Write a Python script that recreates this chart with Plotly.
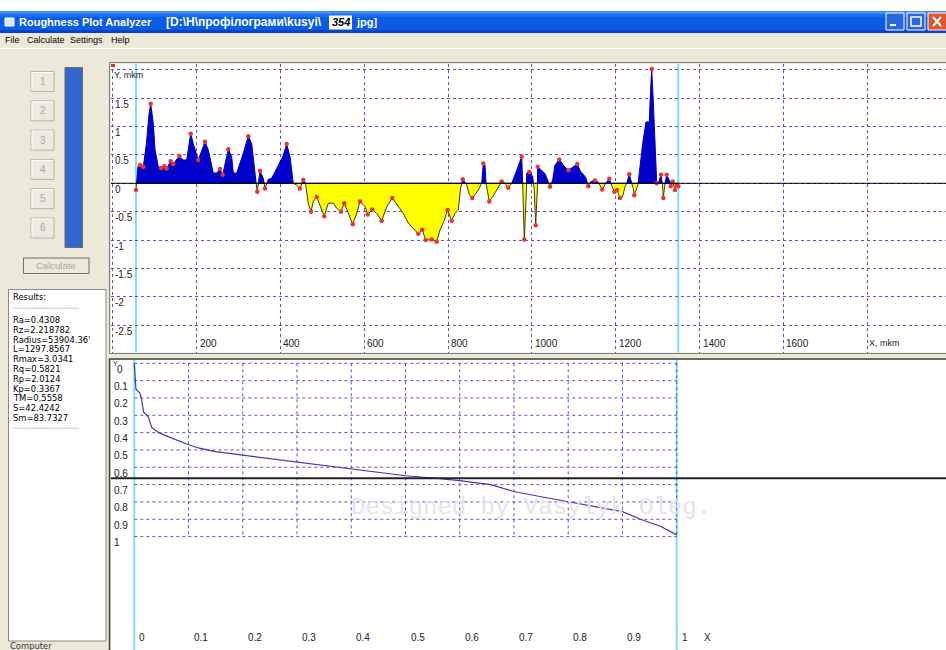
import plotly.graph_objects as go

W, H = 946, 650

# ---------------- data ----------------
profile_x = [55.1, 60.0, 64.7, 72.6, 80.0, 86.0, 90.2, 96.4, 100.5, 108.4, 115.0, 122.7, 128.4, 137.9,
             144.2, 158.5, 168.0, 176.1, 185.7, 191.9, 203.8, 219.8, 227.7, 239.6, 247.7, 255.6, 262.1,
             275.4, 283.5, 287.4, 295.5, 311.2, 323.2, 331.3, 336.8, 344.6, 351.1, 358.9, 363.0, 370.9,
             379.0, 390.9, 405.3, 414.8, 422.7, 430.5, 438.0, 446.5, 454.4, 460.1, 466.3, 472.8, 478.3,
             486.4, 494.3, 504.5, 514.1, 526.0, 534.1, 544.4, 552.3, 561.8, 572.3, 581.9, 589.7, 601.7,
             608.1, 619.1, 629.6, 641.5, 653.5, 666.8, 681.1, 693.1, 705.0, 716.9, 728.9, 738.4, 746.5,
             760.9, 772.8, 780.7, 790.9, 799.0, 808.6, 816.5, 824.3, 829.5, 835.0, 844.4, 850.6, 857.8,
             864.2, 872.1, 880.2, 884.0, 888.1, 890.5, 893.6, 898.3, 906.4, 916.0, 927.9, 935.8, 943.7,
             951.8, 959.7, 967.5, 975.7, 978.0, 981.9, 985.9, 987.6, 993.8, 1001.9, 1005.7, 1009.1,
             1012.9, 1013.8, 1023.4, 1031.3, 1039.1, 1043.2, 1049.6, 1055.1, 1065.4, 1074.9, 1086.9,
             1097.4, 1108.4, 1116.5, 1122.7, 1129.1, 1134.6, 1140.3, 1150.6, 1158.0, 1168.0, 1176.0,
             1184.7, 1191.0, 1197.0, 1203.0, 1210.3, 1216.7, 1222.2, 1226.3, 1232.5, 1238.2, 1242.0,
             1244.4, 1250.1, 1254.0, 1258.0, 1264.4, 1272.3, 1280.2, 1281.9, 1285.9, 1289.7, 1293.8,
             1297.9, 1304.1, 1308.1, 1311.2, 1313.6, 1317.7, 1321.7, 1327.2, 1331.3, 1336.0, 1341.5,
             1345.6, 1349.4]
profile_y = [-0.12, 0.30, 0.32, 0.29, 0.70, 1.20, 1.40, 1.06, 0.59, 0.29, 0.27, 0.30, 0.26, 0.39,
             0.34, 0.48, 0.41, 0.41, 0.87, 0.70, 0.41, 0.73, 0.59, 0.18, 0.18, 0.25, 0.15,
             0.60, 0.47, 0.18, 0.18, 0.53, 0.83, 0.70, 0.29, -0.15, 0.22, 0.09, -0.09, 0.07,
             0.09, 0.26, 0.47, 0.69, 0.47, 0.00, -0.03, -0.09, 0.06, -0.03, -0.35, -0.50, -0.32,
             -0.24, -0.38, -0.58, -0.35, -0.35, -0.44, -0.50, -0.35, -0.53, -0.72, -0.53, -0.32, -0.41,
             -0.55, -0.46, -0.53, -0.66, -0.41, -0.26, -0.41, -0.53, -0.70, -0.79, -0.89, -0.82, -1.00,
             -0.99, -1.03, -0.82, -0.65, -0.47, -0.66, -0.53, -0.47, -0.10, 0.07, -0.03, -0.20, -0.26,
             -0.20, -0.12, 0.00, 0.35, 0.32, 0.00, -0.12, -0.32, -0.24, -0.12, 0.03, 0.00, -0.08,
             0.00, 0.15, 0.32, 0.47, 0.00, -0.99, -0.40, 0.18, 0.20, 0.12, -0.12, -0.74,
             -0.12, 0.29, 0.23, 0.17, 0.03, -0.06, 0.06, 0.32, 0.42, 0.32, 0.23,
             0.29, 0.34, 0.20, 0.16, 0.09, -0.05, 0.03, 0.05, 0.02, -0.11, 0.00,
             0.08, -0.05, -0.15, -0.12, -0.26, -0.23, -0.06, 0.00, 0.16, 0.00, -0.09,
             -0.21, -0.09, 0.03, 0.29, 0.70, 1.08, 1.08, 1.41, 2.01, 1.45, 0.70,
             0.00, 0.05, 0.15, 0.00, -0.26, 0.00, 0.15, 0.06, -0.05, 0.03, -0.12,
             -0.03, -0.05]

bearing_x = [0.0, 0.001, 0.003, 0.010, 0.013, 0.017, 0.026, 0.032, 0.045, 0.060, 0.080, 0.100, 0.120,
             0.150, 0.200, 0.250, 0.300, 0.350, 0.400, 0.450, 0.500, 0.550, 0.600, 0.657, 0.700, 0.750,
             0.800, 0.850, 0.900, 0.933, 0.970, 1.000]
bearing_y = [0.0, 0.08, 0.15, 0.17, 0.20, 0.28, 0.31, 0.37, 0.40, 0.42, 0.445, 0.470, 0.49,
             0.51, 0.53, 0.55, 0.568, 0.588, 0.606, 0.628, 0.649, 0.662, 0.677, 0.70, 0.74, 0.77,
             0.80, 0.83, 0.856, 0.90, 0.94, 0.99]

results_labels = ["Ra", "Rz", "Radius", "L", "Rmax", "Rq", "Rp", "Kp", "TM", "S", "Sm"]
results_values = ["0.4308", "2.218782", "53904.36'", "1297.8567", "3.0341", "0.5821", "2.0124",
                  "0.3367", "0.5558", "42.4242", "83.7327"]

top_y_ticks = [1.5, 1, 0.5, 0, -0.5, -1, -1.5, -2, -2.5]
top_x_ticks = [200, 400, 600, 800, 1000, 1200, 1400, 1600]
bot_ticks = [0.1, 0.2, 0.3, 0.4, 0.5, 0.6, 0.7, 0.8, 0.9, 1.0]

menu_items = ["File", "Calculate", "Settings", "Help"]
button_labels = ["1", "2", "3", "4", "5", "6"]

# ---------------- helpers ----------------
FONT = "Liberation Sans"
GRID = "#5656C4"
shapes, annotations = [], []


def xp(px):
    return px / W


def yp(py):
    return 1 - py / H


def rect(x0, y0, x1, y1, fill=None, line=None, lw=1, layer="below"):
    shapes.append(dict(type="rect", xref="paper", yref="paper",
                       x0=xp(x0), x1=xp(x1), y0=yp(y1), y1=yp(y0),
                       fillcolor=fill if fill else "rgba(0,0,0,0)",
                       line=dict(color=line if line else "rgba(0,0,0,0)", width=lw if line else 0),
                       layer=layer))


def pline(x0, y0, x1, y1, color, lw=1, layer="above"):
    shapes.append(dict(type="line", xref="paper", yref="paper",
                       x0=xp(x0), x1=xp(x1), y0=yp(y0), y1=yp(y1),
                       line=dict(color=color, width=lw), layer=layer))


def text(px, py, s, size=10, color="#000000", anchor="left", bold=False, family=FONT):
    annotations.append(dict(xref="paper", yref="paper", x=xp(px), y=yp(py),
                            text=("<b>%s</b>" % s) if bold else s, showarrow=False,
                            xanchor=anchor, yanchor="middle", borderpad=0,
                            font=dict(family=family, size=size, color=color)))


# ---------------- window chrome ----------------
rect(0, 0, W, 11, fill="#FFFFFF")
rect(0, 11, W, 33, fill="#0A5CE6")
rect(0, 11, W, 14, fill="#3F8DF5")
rect(0, 14, W, 17, fill="#1C6CF0")
rect(0, 30, W, 33, fill="#0445C8")
rect(5, 18, 14, 26, fill="#D8E4F8", line="#FFFFFF")
text(18, 22.5, "Roughness Plot Analyzer", size=11, color="#FFFFFF", bold=True)
text(165, 22.5, "[D:\\Н\\профілограми\\kusyi\\", size=12, color="#FFFFFF", bold=True)
rect(329, 15.5, 352, 29.5, fill="#FFFFFF")
text(331, 22.5, "<i>354</i>", size=11, color="#000000", bold=True)
text(353, 22.5, " jpg]", size=11, color="#FFFFFF", bold=True)
# window buttons
rect(886, 13, 904, 30, fill="#2B67E0", line="#FFFFFF")
pline(890, 25, 896, 25, "#FFFFFF", 2)
rect(907, 13, 925, 30, fill="#2B67E0", line="#FFFFFF")
rect(911, 17, 921, 26, line="#FFFFFF", lw=1.5, layer="above")
rect(928, 13, 948, 30, fill="#E0552F", line="#FFFFFF")
pline(933, 17, 941, 26, "#FFFFFF", 2)
pline(933, 26, 941, 17, "#FFFFFF", 2)

# menu
menu_x = [4, 26, 69, 110]
for mx, m in zip(menu_x, menu_items):
    text(mx, 40.5, m, size=9, color="#000000")
pline(0, 48.5, W, 48.5, "#FFFFFF", 1)

# left button column
for i, lab in enumerate(button_labels):
    y0 = 71.5 + i * 29.3
    rect(31, y0, 54, y0 + 20, fill="#EDEAE0", line="#B5B2A6")
    pline(32, y0 + 1, 53, y0 + 1, "#FFFFFF", 1)
    pline(32, y0 + 1, 32, y0 + 19, "#FFFFFF", 1)
    text(42.5, y0 + 10, lab, size=10, color="#ACA899", anchor="center")
rect(65, 67.5, 82.5, 247.5, fill="#3168D0", line="#6B6B6B")
rect(23.5, 258, 89, 273.5, fill="#ECE9D8", line="#6F6F6F")
text(56, 265.5, "Calculate", size=9.5, color="#ACA899", anchor="center")

# results box
RF = "DejaVu Sans"
DASHES = "-" * 26
rect(8.5, 289.5, 106, 641, fill="#FFFFFF", line="#8A8A8A")
text(12, 297.5, "Results:", size=8.4, family=RF)
text(12, 308, DASHES, size=7, color="#777777", family=RF)
for k, (lab, val) in enumerate(zip(results_labels, results_values)):
    text(12, 320 + k * 9.8, "%s=%s" % (lab, val), size=8.4, family=RF)
text(12, 427.5, DASHES, size=7, color="#777777", family=RF)
text(9, 646, "Computer", size=8.4, color="#333333", family=RF)

# chart panel frames
rect(109.5, 62.5, W + 1, 353.5, line="#7E7E7E", layer="above")
rect(109.5, 359, W + 1, H + 2, line="#404040", lw=1.5, layer="above")
rect(111, 64, 115, 67, fill="#E03030", layer="above")

# ---------------- top chart: profile ----------------
pos_x, pos_y, neg_x, neg_y = [], [], [], []
for i in range(len(profile_x)):
    if i > 0:
        a, b = profile_y[i - 1], profile_y[i]
        if (a > 0 and b < 0) or (a < 0 and b > 0):
            t = a / (a - b)
            xc = profile_x[i - 1] + t * (profile_x[i] - profile_x[i - 1])
            pos_x.append(xc); pos_y.append(0.0)
            neg_x.append(xc); neg_y.append(0.0)
    pos_x.append(profile_x[i]); pos_y.append(max(profile_y[i], 0.0))
    neg_x.append(profile_x[i]); neg_y.append(min(profile_y[i], 0.0))

ext_x, ext_y = [profile_x[0]], [profile_y[0]]
for i in range(1, len(profile_y) - 1):
    p, c, n = profile_y[i - 1], profile_y[i], profile_y[i + 1]
    if (c > p and c > n) or (c < p and c < n):
        ext_x.append(profile_x[i]); ext_y.append(c)
ext_x.append(profile_x[-1]); ext_y.append(profile_y[-1])

fig = go.Figure()
fig.add_trace(go.Scatter(x=neg_x, y=neg_y, mode="lines", fill="tozeroy",
                         fillcolor="#FFFF00", line=dict(color="#3E3E00", width=1),
                         hoverinfo="skip", xaxis="x", yaxis="y"))
fig.add_trace(go.Scatter(x=pos_x, y=pos_y, mode="lines", fill="tozeroy",
                         fillcolor="#0000CC", line=dict(color="#0000B0", width=1),
                         hoverinfo="skip", xaxis="x", yaxis="y"))
fig.add_trace(go.Scatter(x=ext_x, y=ext_y, mode="markers",
                         marker=dict(color="#E83434", size=4.5, line=dict(width=0)),
                         hoverinfo="skip", xaxis="x", yaxis="y"))

# zero line + profile bounds
shapes.append(dict(type="line", xref="x domain", yref="y", x0=0, x1=1, y0=0, y1=0,
                   line=dict(color="#000000", width=1), layer="above"))
for bx in (profile_x[0], profile_x[-1]):
    shapes.append(dict(type="line", xref="x", yref="y domain", x0=bx, x1=bx, y0=0, y1=1,
                       line=dict(color="#86DCEC", width=2), layer="below"))

for v in top_y_ticks:
    annotations.append(dict(xref="paper", yref="y", x=xp(114), y=v, yshift=-6,
                            text="%g" % v, showarrow=False, xanchor="left", yanchor="middle",
                            borderpad=0, font=dict(family=FONT, size=10, color="#222222")))
text(113, 75, "Y, mkm", size=9, color="#222222")
for v in top_x_ticks:
    annotations.append(dict(xref="x", yref="paper", x=v, xshift=2, y=yp(343),
                            text=str(v), showarrow=False, xanchor="left", yanchor="middle",
                            borderpad=0, font=dict(family=FONT, size=10, color="#222222")))
annotations.append(dict(xref="x", yref="paper", x=1800, xshift=1, y=yp(343),
                        text="X, mkm", showarrow=False, xanchor="left", yanchor="middle",
                        borderpad=0, font=dict(family=FONT, size=9, color="#222222")))

# ---------------- bottom chart: bearing curve ----------------
for v in [0.0] + bot_ticks:
    shapes.append(dict(type="line", xref="x2", yref="y2", x0=0, x1=1, y0=v, y1=v,
                       line=dict(color=GRID, width=1, dash="3px,3px"), layer="below"))
for v in bot_ticks:
    shapes.append(dict(type="line", xref="x2", yref="y2", x0=v, x1=v, y0=0, y1=1,
                       line=dict(color=GRID, width=1, dash="3px,3px"), layer="below"))
for bx in (0.0, 1.0):
    shapes.append(dict(type="line", xref="x2", yref="y2 domain", x0=bx, x1=bx, y0=0, y1=1,
                       line=dict(color="#86DCEC", width=2), layer="below"))
mean_ratio = float(results_values[6]) / float(results_values[4])
shapes.append(dict(type="line", xref="x2 domain", yref="y2", x0=0, x1=1,
                   y0=mean_ratio, y1=mean_ratio, line=dict(color="#202020", width=2),
                   layer="above"))

fig.add_trace(go.Scatter(x=bearing_x, y=bearing_y, mode="lines",
                         line=dict(color="#3A3AB8", width=1.2),
                         hoverinfo="skip", xaxis="x2", yaxis="y2"))

text(350, 507, "Designed by Vasylyk Oleg.", size=24, color="#EAE1EA", family="Liberation Mono")

for v in [0.0] + bot_ticks:
    annotations.append(dict(xref="paper", yref="y2", x=xp(116 if v == 0 else 113), y=v, yshift=-6,
                            text="%g" % v, showarrow=False, xanchor="left", yanchor="middle",
                            borderpad=0, font=dict(family=FONT, size=10, color="#222222")))
text(111.5, 363, "Y", size=7, color="#222222")
for v in [0.0] + bot_ticks:
    annotations.append(dict(xref="x2", yref="paper", x=v, xshift=4, y=yp(637),
                            text="%g" % v, showarrow=False, xanchor="left", yanchor="middle",
                            borderpad=0, font=dict(family=FONT, size=10, color="#222222")))
annotations.append(dict(xref="x2", yref="paper", x=1.0, xshift=26, y=yp(637),
                        text="X", showarrow=False, xanchor="left", yanchor="middle",
                        borderpad=0, font=dict(family=FONT, size=10, color="#222222")))

# ---------------- layout ----------------
fig.update_layout(
    width=W, height=H, autosize=False,
    margin=dict(l=0, r=0, t=0, b=0, pad=0),
    paper_bgcolor="#ECE9D8", plot_bgcolor="#FFFFFF",
    showlegend=False,
    xaxis=dict(domain=[xp(111), 1.0], range=[-4.5, 1988.3], showgrid=True, tick0=0, dtick=200,
               gridcolor=GRID, griddash="3px,3px", gridwidth=1, zeroline=False,
               showticklabels=False, ticks="", showline=False, fixedrange=True),
    yaxis=dict(domain=[yp(352.5), yp(64)], range=[-2.979, 2.1], showgrid=True, tick0=0, dtick=0.5,
               gridcolor=GRID, griddash="3px,3px", gridwidth=1, zeroline=False,
               showticklabels=False, ticks="", showline=False, fixedrange=True),
    xaxis2=dict(domain=[xp(111), 1.0], range=[-0.04296, 1.4965], showgrid=False, zeroline=False,
                showticklabels=False, ticks="", showline=False, fixedrange=True, anchor="y2"),
    yaxis2=dict(domain=[0, yp(360)], range=[1.6544, -0.01904], showgrid=False, zeroline=False,
                showticklabels=False, ticks="", showline=False, fixedrange=True, anchor="x2"),
    shapes=shapes, annotations=annotations,
)

fig.write_html("out.html", config={"displayModeBar": False, "staticPlot": True},
               post_script="document.body.style.margin='0';document.body.style.overflow='hidden';")
